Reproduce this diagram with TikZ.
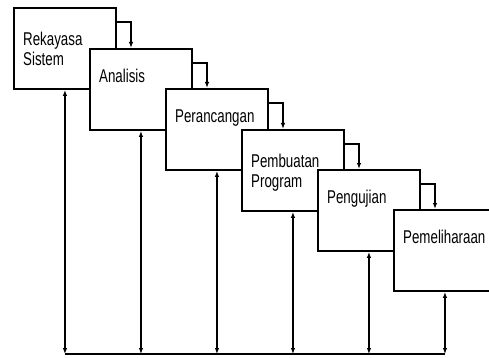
\documentclass[tikz,border=0pt]{standalone}
\usepackage{graphicx}
\usepackage{fontspec}
\setmainfont{Liberation Sans}
\usetikzlibrary{arrows.meta,calc}
\newcommand{\stagetext}[1]{\scalebox{0.72}[1]{\fontsize{18.5}{20}\selectfont\begin{tabular}{@{}l@{}}#1\end{tabular}}}
\begin{document}
\begin{tikzpicture}[x=1pt,y=-1pt,
  stagebox/.style={draw,fill=white,line width=1.9pt,minimum width=102pt,minimum height=81pt,anchor=north west,inner sep=0pt},
  stagelabel/.style={anchor=north west,inner sep=0pt},
  flow/.style={line width=1.5pt,-{Latex[length=6pt,width=4.5pt]}},
  link/.style={line width=1.5pt,{Latex[length=6pt,width=4.5pt]}-{Latex[length=6pt,width=4.5pt]}}]
\useasboundingbox (0,0) rectangle (489,358);
\clip (0,0) rectangle (489,358);
% boxes and labels
\node[stagebox] (b1) at (13,7) {};
\node[stagelabel] (t1) at ($(b1.north west)+(10,24.5)$) {\stagetext{Rekayasa\\Sistem}};
\node[stagebox] (b2) at (89,48) {};
\node[stagelabel] (t2) at ($(b2.north west)+(10,20)$) {\stagetext{Analisis}};
\node[stagebox] (b3) at (165,88) {};
\node[stagelabel] (t3) at ($(b3.north west)+(10,20)$) {\stagetext{Perancangan}};
\node[stagebox] (b4) at (241,129) {};
\node[stagelabel] (t4) at ($(b4.north west)+(10,24.5)$) {\stagetext{Pembuatan\\Program}};
\node[stagebox] (b5) at (317,169) {};
\node[stagelabel] (t5) at ($(b5.north west)+(10,20)$) {\stagetext{Pengujian}};
\node[stagebox] (b6) at (393,209) {};
\node[stagelabel] (t6) at ($(b6.north west)+(10,20)$) {\stagetext{Pemeliharaan}};
% cascade connectors
\draw[flow] ($(b1.north east)+(0,15)$) -| ($(b2.north west)+(42,0)$);
\draw[flow] ($(b2.north east)+(0,15)$) -| ($(b3.north west)+(42,0)$);
\draw[flow] ($(b3.north east)+(0,15)$) -| ($(b4.north west)+(42,0)$);
\draw[flow] ($(b4.north east)+(0,15)$) -| ($(b5.north west)+(42,0)$);
\draw[flow] ($(b5.north east)+(0,15)$) -| ($(b6.north west)+(42,0)$);
% feedback bus
\coordinate (bus) at (0,354);
\draw[line width=1.5pt] (b1.south |- bus) -- (b6.south |- bus);
\foreach \b in {b1,b2,b3,b4,b5,b6}{
  \draw[link] (\b.south |- bus) -- (\b.south);
}
\end{tikzpicture}
\end{document}
